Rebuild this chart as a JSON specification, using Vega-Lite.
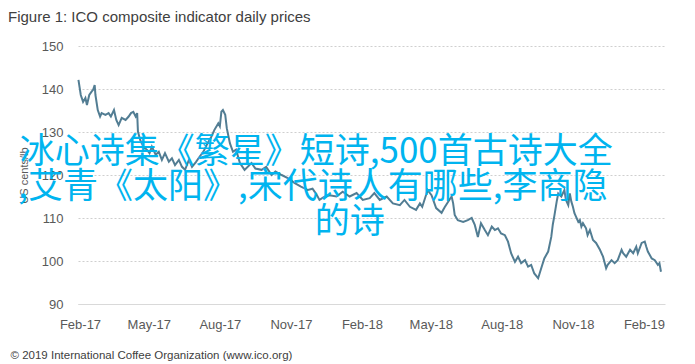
{
  "$schema": "https://vega.github.io/schema/vega-lite/v6.json",
  "width": 587,
  "height": 258,
  "autosize": {"type": "none"},
  "padding": {"left": 78, "top": 46, "right": 30, "bottom": 60},
  "background": "#ffffff",
  "title": {
    "text": "Figure 1: ICO composite indicator daily prices",
    "anchor": "start",
    "frame": "group",
    "dx": -70,
    "dy": 15,
    "offset": 18,
    "baseline": "alphabetic",
    "font": "Liberation Sans",
    "fontSize": 15,
    "fontWeight": "normal",
    "color": "#404040"
  },
  "config": {
    "view": {"stroke": null},
    "axis": {"labelFont": "Liberation Sans", "titleFont": "Liberation Sans"}
  },
  "datasets": {
    "prices": [
      {"date": "2017-01-30", "price": 142.1},
      {"date": "2017-02-02", "price": 138.6},
      {"date": "2017-02-05", "price": 137.0},
      {"date": "2017-02-08", "price": 137.9},
      {"date": "2017-02-10", "price": 136.3},
      {"date": "2017-02-13", "price": 138.6},
      {"date": "2017-02-16", "price": 139.4},
      {"date": "2017-02-18", "price": 139.8},
      {"date": "2017-02-20", "price": 140.9},
      {"date": "2017-02-21", "price": 138.6},
      {"date": "2017-02-24", "price": 135.1},
      {"date": "2017-02-27", "price": 133.6},
      {"date": "2017-03-01", "price": 134.4},
      {"date": "2017-03-06", "price": 134.0},
      {"date": "2017-03-10", "price": 134.4},
      {"date": "2017-03-13", "price": 133.6},
      {"date": "2017-03-17", "price": 135.1},
      {"date": "2017-03-20", "price": 132.8},
      {"date": "2017-03-23", "price": 131.6},
      {"date": "2017-03-27", "price": 133.3},
      {"date": "2017-04-01", "price": 132.8},
      {"date": "2017-04-05", "price": 133.6},
      {"date": "2017-04-08", "price": 134.4},
      {"date": "2017-04-11", "price": 134.7},
      {"date": "2017-04-14", "price": 133.6},
      {"date": "2017-04-16", "price": 134.4},
      {"date": "2017-04-17", "price": 130.1},
      {"date": "2017-04-20", "price": 128.1},
      {"date": "2017-04-24", "price": 126.6},
      {"date": "2017-04-29", "price": 125.8},
      {"date": "2017-05-02", "price": 125.1},
      {"date": "2017-05-05", "price": 126.6},
      {"date": "2017-05-10", "price": 124.7},
      {"date": "2017-05-14", "price": 125.4},
      {"date": "2017-05-18", "price": 123.5},
      {"date": "2017-05-22", "price": 125.1},
      {"date": "2017-05-27", "price": 123.1},
      {"date": "2017-05-31", "price": 123.9},
      {"date": "2017-06-04", "price": 122.3},
      {"date": "2017-06-09", "price": 123.5},
      {"date": "2017-06-13", "price": 121.9},
      {"date": "2017-06-17", "price": 121.2},
      {"date": "2017-06-22", "price": 123.5},
      {"date": "2017-06-26", "price": 121.9},
      {"date": "2017-07-01", "price": 123.0},
      {"date": "2017-07-06", "price": 124.3},
      {"date": "2017-07-11", "price": 125.5},
      {"date": "2017-07-15", "price": 127.0},
      {"date": "2017-07-21", "price": 128.9},
      {"date": "2017-07-25", "price": 130.5},
      {"date": "2017-07-30", "price": 132.0},
      {"date": "2017-08-01", "price": 131.3},
      {"date": "2017-08-03", "price": 134.7},
      {"date": "2017-08-05", "price": 135.1},
      {"date": "2017-08-08", "price": 134.0},
      {"date": "2017-08-10", "price": 130.9},
      {"date": "2017-08-14", "price": 127.4},
      {"date": "2017-08-18", "price": 125.4},
      {"date": "2017-08-22", "price": 125.9},
      {"date": "2017-08-27", "price": 122.8},
      {"date": "2017-09-02", "price": 121.2},
      {"date": "2017-09-11", "price": 122.8},
      {"date": "2017-09-16", "price": 121.5},
      {"date": "2017-09-24", "price": 121.2},
      {"date": "2017-09-30", "price": 121.9},
      {"date": "2017-10-07", "price": 120.0},
      {"date": "2017-10-12", "price": 120.8},
      {"date": "2017-10-20", "price": 120.0},
      {"date": "2017-10-28", "price": 119.3},
      {"date": "2017-11-06", "price": 118.1},
      {"date": "2017-11-14", "price": 117.3},
      {"date": "2017-11-23", "price": 116.5},
      {"date": "2017-11-29", "price": 116.8},
      {"date": "2017-12-04", "price": 115.5},
      {"date": "2017-12-08", "price": 114.2},
      {"date": "2017-12-15", "price": 115.0},
      {"date": "2017-12-21", "price": 115.3},
      {"date": "2017-12-30", "price": 115.0},
      {"date": "2018-01-07", "price": 116.1},
      {"date": "2018-01-16", "price": 115.0},
      {"date": "2018-01-25", "price": 115.8},
      {"date": "2018-02-02", "price": 114.2},
      {"date": "2018-02-11", "price": 114.6},
      {"date": "2018-02-17", "price": 115.8},
      {"date": "2018-02-24", "price": 114.2},
      {"date": "2018-03-05", "price": 115.0},
      {"date": "2018-03-13", "price": 113.4},
      {"date": "2018-03-22", "price": 113.0},
      {"date": "2018-03-28", "price": 114.2},
      {"date": "2018-04-04", "price": 112.6},
      {"date": "2018-04-12", "price": 111.9},
      {"date": "2018-04-17", "price": 113.4},
      {"date": "2018-04-20", "price": 112.6},
      {"date": "2018-04-27", "price": 116.5},
      {"date": "2018-05-02", "price": 115.3},
      {"date": "2018-05-08", "price": 112.3},
      {"date": "2018-05-15", "price": 111.2},
      {"date": "2018-05-19", "price": 112.5},
      {"date": "2018-05-25", "price": 114.2},
      {"date": "2018-05-28", "price": 115.0},
      {"date": "2018-05-30", "price": 113.4},
      {"date": "2018-06-01", "price": 110.7},
      {"date": "2018-06-05", "price": 109.5},
      {"date": "2018-06-12", "price": 109.1},
      {"date": "2018-06-18", "price": 109.5},
      {"date": "2018-06-23", "price": 110.0},
      {"date": "2018-06-27", "price": 108.4},
      {"date": "2018-07-01", "price": 105.6},
      {"date": "2018-07-05", "price": 108.8},
      {"date": "2018-07-10", "price": 107.2},
      {"date": "2018-07-14", "price": 106.0},
      {"date": "2018-07-19", "price": 108.0},
      {"date": "2018-07-23", "price": 107.2},
      {"date": "2018-07-27", "price": 107.6},
      {"date": "2018-07-31", "price": 106.4},
      {"date": "2018-08-05", "price": 106.0},
      {"date": "2018-08-09", "price": 104.5},
      {"date": "2018-08-13", "price": 101.8},
      {"date": "2018-08-18", "price": 99.8},
      {"date": "2018-08-22", "price": 101.0},
      {"date": "2018-08-26", "price": 99.5},
      {"date": "2018-08-31", "price": 100.2},
      {"date": "2018-09-04", "price": 98.7},
      {"date": "2018-09-08", "price": 99.1},
      {"date": "2018-09-12", "price": 97.1},
      {"date": "2018-09-17", "price": 96.0},
      {"date": "2018-09-21", "price": 98.3},
      {"date": "2018-09-25", "price": 100.6},
      {"date": "2018-09-30", "price": 102.2},
      {"date": "2018-10-04", "price": 105.6},
      {"date": "2018-10-06", "price": 108.5},
      {"date": "2018-10-08", "price": 110.5},
      {"date": "2018-10-11", "price": 113.8},
      {"date": "2018-10-13", "price": 115.7},
      {"date": "2018-10-17", "price": 115.0},
      {"date": "2018-10-21", "price": 116.5},
      {"date": "2018-10-23", "price": 114.2},
      {"date": "2018-10-26", "price": 113.0},
      {"date": "2018-10-28", "price": 115.7},
      {"date": "2018-10-30", "price": 113.8},
      {"date": "2018-11-01", "price": 112.6},
      {"date": "2018-11-03", "price": 111.1},
      {"date": "2018-11-05", "price": 110.3},
      {"date": "2018-11-08", "price": 109.1},
      {"date": "2018-11-10", "price": 109.5},
      {"date": "2018-11-12", "price": 108.0},
      {"date": "2018-11-14", "price": 108.8},
      {"date": "2018-11-18", "price": 107.6},
      {"date": "2018-11-20", "price": 106.0},
      {"date": "2018-11-23", "price": 107.2},
      {"date": "2018-11-27", "price": 104.9},
      {"date": "2018-12-01", "price": 104.2},
      {"date": "2018-12-06", "price": 102.6},
      {"date": "2018-12-10", "price": 101.0},
      {"date": "2018-12-14", "price": 98.3},
      {"date": "2018-12-16", "price": 99.1},
      {"date": "2018-12-21", "price": 100.2},
      {"date": "2018-12-25", "price": 99.5},
      {"date": "2018-12-29", "price": 100.2},
      {"date": "2019-01-03", "price": 102.6},
      {"date": "2019-01-05", "price": 101.8},
      {"date": "2019-01-09", "price": 101.0},
      {"date": "2019-01-14", "price": 102.6},
      {"date": "2019-01-18", "price": 101.8},
      {"date": "2019-01-22", "price": 103.3},
      {"date": "2019-01-24", "price": 101.8},
      {"date": "2019-01-29", "price": 104.2},
      {"date": "2019-02-02", "price": 104.5},
      {"date": "2019-02-04", "price": 103.3},
      {"date": "2019-02-06", "price": 102.2},
      {"date": "2019-02-11", "price": 100.6},
      {"date": "2019-02-15", "price": 100.2},
      {"date": "2019-02-19", "price": 99.1},
      {"date": "2019-02-21", "price": 99.5},
      {"date": "2019-02-23", "price": 97.5}
    ],
    "overlay": [
      {"date": "2016-11-15", "price": 125.3, "text": "冰心诗集《繁星》短诗,500首古诗大全"},
      {"date": "2016-11-13", "price": 117.2, "text": ",艾青《太阳》,宋代诗人有哪些,李商隐"},
      {"date": "2017-12-02", "price": 109.1, "text": "的诗"}
    ]
  },
  "encoding": {
    "x": {
      "field": "date",
      "type": "temporal",
      "scale": {
        "type": "utc",
        "domain": [
          {"year": 2017, "month": 1, "date": 29, "hours": 10, "utc": true},
          {"year": 2019, "month": 2, "date": 28, "hours": 5, "utc": true}
        ]
      },
      "axis": {
        "values": [
          {"year": 2017, "month": 2, "date": 1, "utc": true},
          {"year": 2017, "month": 5, "date": 1, "utc": true},
          {"year": 2017, "month": 8, "date": 1, "utc": true},
          {"year": 2017, "month": 11, "date": 1, "utc": true},
          {"year": 2018, "month": 2, "date": 1, "utc": true},
          {"year": 2018, "month": 5, "date": 1, "utc": true},
          {"year": 2018, "month": 8, "date": 1, "utc": true},
          {"year": 2018, "month": 11, "date": 1, "utc": true},
          {"year": 2019, "month": 2, "date": 1, "utc": true}
        ],
        "labelExpr": "utcFormat(datum.value, '%b-%y')",
        "grid": false,
        "ticks": false,
        "domain": true,
        "domainColor": "#d9d9d9",
        "domainWidth": 1,
        "labelFontSize": 13,
        "labelColor": "#595959",
        "labelPadding": 14,
        "labelFlush": false,
        "labelOverlap": false,
        "title": "© 2019 International Coffee Organization (www.ico.org)",
        "titleFontSize": 11.5,
        "titleFontWeight": "normal",
        "titleColor": "#404040",
        "titleAlign": "left",
        "titleAnchor": "start",
        "titleBaseline": "alphabetic",
        "titleX": -68,
        "titleY": 54
      }
    },
    "y": {
      "field": "price",
      "type": "quantitative",
      "scale": {"domain": [90, 150], "nice": false, "zero": false},
      "axis": {
        "values": [90, 100, 110, 120, 130, 140, 150],
        "grid": true,
        "gridColor": "#cfcfcf",
        "gridDash": [2, 2],
        "gridWidth": 1,
        "domain": false,
        "ticks": false,
        "labelFontSize": 13,
        "labelColor": "#595959",
        "labelPadding": 15,
        "title": "US cents/lb",
        "titleFontSize": 11,
        "titleFontWeight": "normal",
        "titleColor": "#595959",
        "titlePadding": 12
      }
    }
  },
  "layer": [
    {
      "data": {"name": "prices"},
      "mark": {"type": "line", "color": "#527d93", "strokeWidth": 2, "interpolate": "linear"}
    },
    {
      "data": {"name": "overlay"},
      "mark": {
        "type": "text",
        "align": "left",
        "baseline": "middle",
        "font": "Noto Sans CJK SC",
        "fontSize": 35,
        "color": "#00b4ef",
        "clip": false
      },
      "encoding": {"text": {"field": "text", "type": "nominal"}}
    }
  ]
}
